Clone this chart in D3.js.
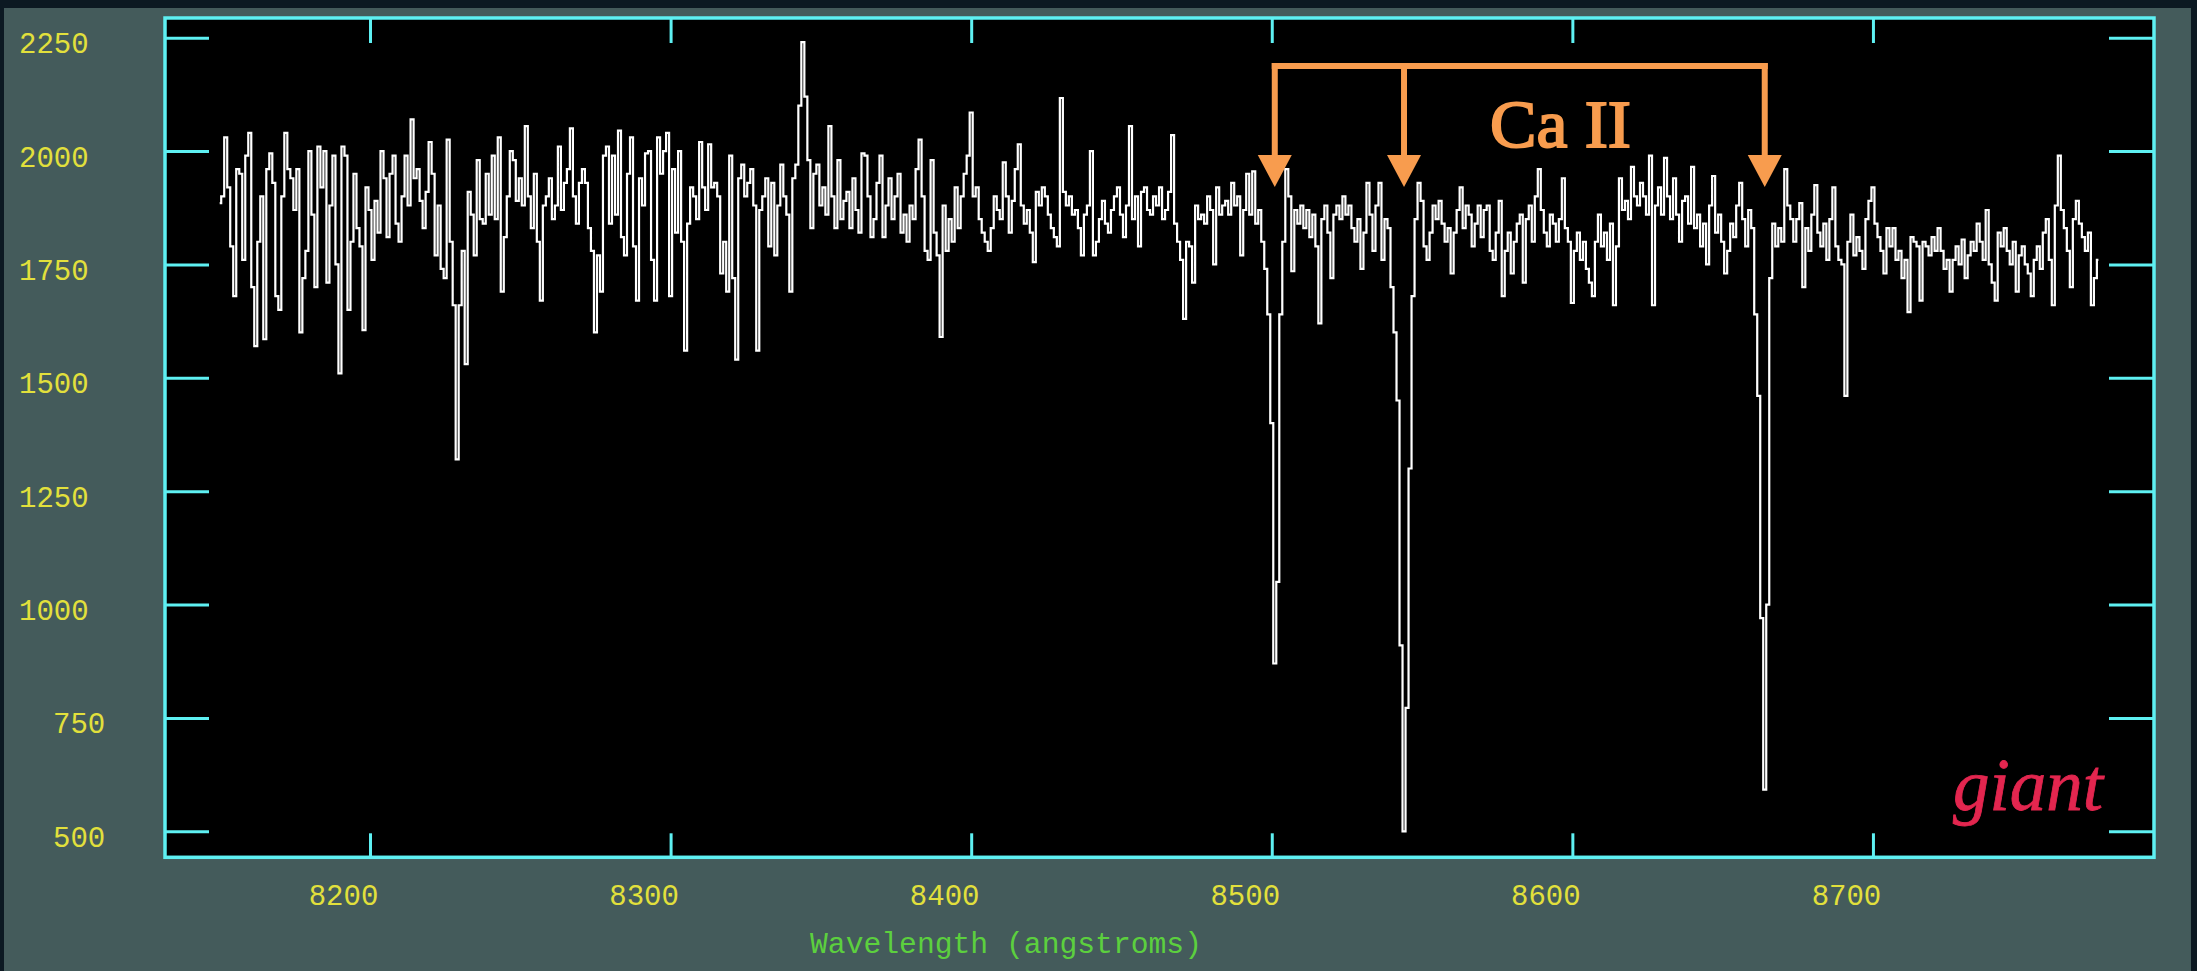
<!DOCTYPE html>
<html><head><meta charset="utf-8">
<script src="https://cdn.jsdelivr.net/npm/d3@7"></script>
<style>html,body{margin:0;padding:0;background:#0c1922;overflow:hidden}</style>
</head><body>
<svg id="chart" width="2197" height="971"></svg>
<script>
// ---- data ----
const lambdaStart = 8150;   // first pixel wavelength (angstroms)
const lambdaStep = 1;       // dispersion (angstroms / pixel)
const flux = [
1885,1900,2030,1920,1790,1680,1960,1950,1760,1990,
2040,1700,1570,1800,1900,1585,1960,1995,1930,1680,
1650,1900,2040,1960,1940,1870,1960,1600,1720,1780,
2000,1860,1700,2010,1920,2000,1710,1880,1990,1750,
1510,2010,1990,1650,1800,1950,1830,1790,1605,1920,
1870,1760,1890,1820,2000,1940,1810,1950,1990,1840,
1800,1900,1990,1880,2070,1940,1960,1890,1830,1910,
2020,1950,1770,1880,1740,1720,2025,1800,1660,1320,
1660,1780,1530,1910,1860,1770,1980,1850,1840,1950,
1860,1990,1850,2030,1690,1810,1900,2000,1980,1890,
1940,1880,2055,1900,1830,1950,1800,1670,1880,1900,
1940,1850,1880,2010,1870,1930,1960,2050,1900,1840,
1930,1960,1930,1830,1780,1600,1770,
1690,1990,2010,1840,1990,1860,2045,1810,1770,1950,
2030,1790,1670,1940,1880,1995,2000,1760,1670,2030,
1950,2000,2040,1680,1960,1820,2000,1800,1560,1840,
1920,1900,1850,2020,1920,1870,2015,1920,1930,1900,
1730,1800,1690,1990,1720,1540,1940,1970,1900,1930,
1960,1880,1560,1870,1900,1940,1790,1930,1770,1880,
1970,1900,1860,1690,1940,1970,2100,2240,2120,1980,
1830,1950,1970,1880,1920,1860,2055,1900,1830,1980,
1850,1890,1910,1830,1940,1870,1820,1995,1990,1900,
1810,1850,1930,1990,1810,1880,1940,1850,1900,1950,
1820,1860,1800,1880,1850,1960,2025,1900,1780,1760,
1980,1820,1770,1590,1880,1780,1850,1800,1920,1830,
1900,1950,1990,2085,1900,1920,1850,1820,1800,1780,
1830,1900,1870,
1850,1975,1900,1820,1890,1960,2015,1880,1840,1870,
1820,1755,1910,1880,1920,1900,1860,1830,1810,1790,
2117,1910,1880,1900,1860,1870,1830,1770,1860,1880,
2000,1770,1800,1850,1890,1840,1820,1870,1900,1920,
1860,1810,1880,2055,1850,1900,1790,1910,1920,1870,
1860,1900,1880,1920,1850,1870,1910,2035,1840,1800,
1760,1630,1800,1790,1710,1880,1850,1860,1840,1900,
1870,1750,1920,1860,1880,1890,1860,1930,1880,1900,
1770,1870,1950,1860,1955,1840,1870,1800,1740,1640,
1400,870,1050,1640,1800,1960,1900,1735,1870,1840,
1880,1830,1870,1810,1860,1790,1620,1850,1880,1820,
1720,1860,1880,1850,1900,1860,1880,1830,1800,1850,
1740,1820,1930,1860,1780,1880,1930,1760,1850,1830,
1700,1600,1450,910,500,772,1300,1680,
1850,1930,1890,1790,1760,1820,1880,1850,1890,1840,
1800,1830,1730,1820,1870,1920,1830,1880,1860,1790,
1840,1880,1810,1870,1880,1780,1760,1820,1890,1680,
1780,1820,1730,1800,1840,1860,1710,1850,1880,1800,
1900,1960,1870,1820,1790,1860,1840,1800,1850,1940,
1830,1800,1665,1780,1820,1760,1800,1740,1710,1680,
1800,1860,1790,1820,1760,1840,1660,1790,1940,1870,
1890,1850,1965,1900,1880,1930,1900,1860,1990,1660,
1880,1920,1860,1985,1900,1850,1940,1860,1800,1890,
1900,1840,1965,1830,1860,1790,1840,1750,1880,1945,
1820,1860,1800,1730,1780,1840,1810,1880,1930,1850,
1790,1870,1830,1640,1460,970,592,1000,1720,1840,
1790,1830,1800,1960,1880,1850,1800,
1850,1885,1700,1830,1780,1860,1925,1820,1790,1840,
1760,1850,1920,1790,1760,1750,1460,1800,1860,1770,
1810,1780,1740,1850,1890,1920,1840,1810,1780,1730,
1830,1790,1830,1760,1780,1720,1760,1645,1810,1800,
1790,1670,1800,1790,1770,1810,1780,1830,1780,1740,
1760,1690,1760,1790,1750,1805,1720,1770,1800,1780,
1840,1800,1760,1870,1750,1710,1670,1820,1790,1830,
1780,1750,1800,1690,1770,1790,1750,1730,1680,1760,
1790,1740,1820,1850,1760,1660,1880,1990,1870,1830,
1780,1700,1850,1890,1840,1810,1780,1820,1660,1720,
1760
];
const xTicks = [8200, 8300, 8400, 8500, 8600, 8700];
const yTicks = [500, 750, 1000, 1250, 1500, 1750, 2000, 2250];
const caIILines = [8501, 8544, 8664];
const xDomain = [8131.8, 8793.5];
const yDomain = [442.7, 2293.4];
const xTitle = "Wavelength (angstroms)";
const annotation = "Ca II";
const starType = "giant";

// ---- layout ----
const W = 2197, H = 971;
const plot = {left: 165, top: 18, right: 2154, bottom: 857.3};
const CYAN = "#5ef0f2", YELLOW = "#e2e03c", GREEN = "#5cd03e",
      ORANGE = "#f89c4e", CRIMSON = "#e3264f", PANEL = "#445b5b";
const monoFont = "'Liberation Mono','DejaVu Sans Mono',monospace";
const serifFont = "'Liberation Serif','DejaVu Serif',serif";

const svg = d3.select("#chart");
svg.append("rect").attr("width", W).attr("height", H).attr("fill", "#0c1922");
svg.append("rect").attr("x", 4).attr("y", 8).attr("width", 2187).attr("height", H - 8).attr("fill", PANEL);
svg.append("rect").attr("x", plot.left).attr("y", plot.top)
   .attr("width", plot.right - plot.left).attr("height", plot.bottom - plot.top).attr("fill", "#000");

const x = d3.scaleLinear().domain(xDomain).range([plot.left, plot.right]);
const y = d3.scaleLinear().domain(yDomain).range([plot.bottom, plot.top]);

const data = flux.map((f, i) => ({lambda: lambdaStart + i * lambdaStep, flux: f}));

svg.append("clipPath").attr("id", "clip").append("rect")
   .attr("x", plot.left).attr("y", plot.top)
   .attr("width", plot.right - plot.left).attr("height", plot.bottom - plot.top);

svg.append("path").datum(data)
   .attr("clip-path", "url(#clip)")
   .attr("fill", "none").attr("stroke", "#ffffff").attr("stroke-width", 2.2)
   .attr("d", d3.line().x(d => x(d.lambda)).y(d => y(d.flux)).curve(d3.curveStep));

// ---- axes (inward ticks) ----
function styleAxis(g) {
  g.select(".domain").remove();
  g.selectAll(".tick line").attr("stroke", CYAN).attr("stroke-width", 3);
  g.selectAll(".tick text").attr("fill", YELLOW)
   .attr("font-family", monoFont).attr("font-size", 29);
}

const gx = svg.append("g").attr("transform", `translate(0,${plot.bottom})`)
  .call(d3.axisBottom(x).tickValues(xTicks).tickSize(-24).tickSizeOuter(0).tickPadding(0).tickFormat(d3.format("d")));
styleAxis(gx);
gx.selectAll(".tick text").attr("dy", null).attr("y", 48).attr("dx", -27);

const gxt = svg.append("g").attr("transform", `translate(0,${plot.top})`)
  .call(d3.axisTop(x).tickValues(xTicks).tickSize(-25).tickSizeOuter(0).tickFormat(""));
styleAxis(gxt);

const gy = svg.append("g").attr("transform", `translate(${plot.left},0)`)
  .call(d3.axisLeft(y).tickValues(yTicks).tickSize(-44).tickSizeOuter(0).tickFormat(d3.format("d")));
styleAxis(gy);
gy.selectAll(".tick text")
  .attr("text-anchor", "start")
  .attr("dy", null).attr("y", 15)
  .attr("x", d => (String(d).length === 4 ? 19 : 53) - plot.left);

const gyr = svg.append("g").attr("transform", `translate(${plot.right},0)`)
  .call(d3.axisRight(y).tickValues(yTicks).tickSize(-45).tickSizeOuter(0).tickFormat(""));
styleAxis(gyr);

// frame
svg.append("rect").attr("x", plot.left).attr("y", plot.top)
   .attr("width", plot.right - plot.left).attr("height", plot.bottom - plot.top)
   .attr("fill", "none").attr("stroke", CYAN).attr("stroke-width", 3.5);

// x title
svg.append("text").attr("x", 810).attr("y", 953)
   .attr("fill", GREEN).attr("font-family", monoFont).attr("font-size", 29.5)
   .attr("textLength", 392).attr("lengthAdjust", "spacingAndGlyphs")
   .text(xTitle);

// ---- Ca II annotation ----
const barY = 66, headTop = 155, tipY = 187, headHalf = 17;
const ann = svg.append("g");
const xs = caIILines.map(l => x(l));
ann.append("line").attr("x1", xs[0] - 3).attr("x2", xs[xs.length - 1] + 3)
   .attr("y1", barY).attr("y2", barY)
   .attr("stroke", ORANGE).attr("stroke-width", 6);
caIILines.forEach(l => {
  const cx = x(l);
  ann.append("line").attr("x1", cx).attr("x2", cx).attr("y1", barY - 3).attr("y2", headTop + 4)
     .attr("stroke", ORANGE).attr("stroke-width", 6);
  ann.append("path")
     .attr("d", `M${cx - headHalf},${headTop} L${cx + headHalf},${headTop} L${cx},${tipY} Z`)
     .attr("fill", ORANGE);
});
ann.append("text").attr("x", 1490).attr("y", 147)
   .attr("fill", ORANGE).attr("stroke", ORANGE).attr("stroke-width", 2)
   .attr("font-family", serifFont).attr("font-size", 68)
   .attr("textLength", 141).attr("lengthAdjust", "spacingAndGlyphs")
   .text(annotation);

svg.append("text").attr("x", 1953).attr("y", 810)
   .attr("fill", CRIMSON).attr("stroke", CRIMSON).attr("stroke-width", 0.8)
   .attr("font-family", serifFont).attr("font-style", "italic")
   .attr("font-size", 73)
   .text(starType);
</script>
</body></html>
